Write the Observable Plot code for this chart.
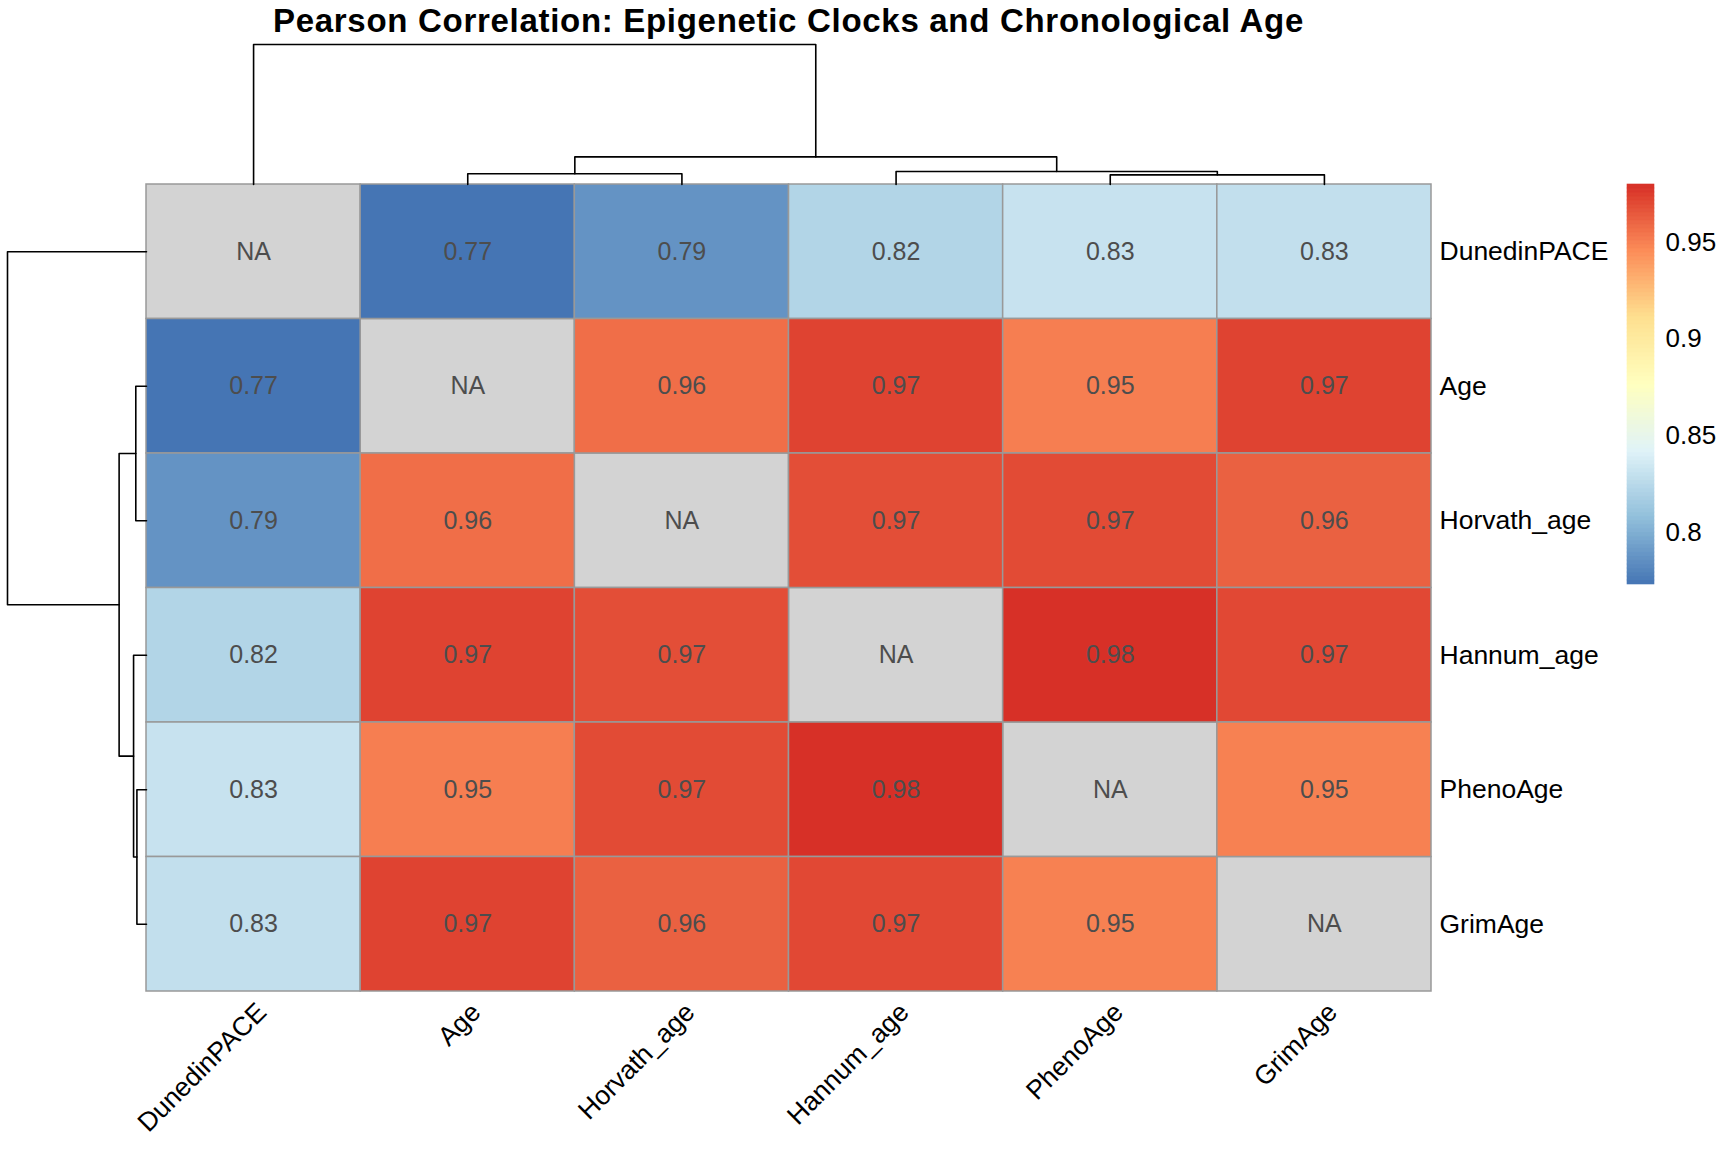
<!DOCTYPE html>
<html>
<head>
<meta charset="utf-8">
<script src="https://cdn.jsdelivr.net/npm/d3@7"></script>
<script src="https://cdn.jsdelivr.net/npm/@observablehq/plot@0.6"></script>
<style>
  html, body { margin: 0; padding: 0; background: #fff; }
  #figure { position: relative; width: 1728px; height: 1152px; overflow: hidden; font-family: "Liberation Sans", Arial, Helvetica, sans-serif; }
  #title {
    position: absolute; left: 146px; top: 1px; width: 1285px; height: 40px;
    line-height: 40px; text-align: center; font-weight: bold; font-size: 33px;
    letter-spacing: 0.7px; color: #000; white-space: nowrap;
  }
  #main { position: absolute; left: 0; top: 40px; width: 1728px; }
  #legend { position: absolute; left: 1627px; top: 174px; width: 200px; }
  #figure svg { max-width: none !important; }
</style>
</head>
<body>
<div id="figure">
  <div id="title">Pearson Correlation: Epigenetic Clocks and Chronological Age</div>
  <div id="main"></div>
  <div id="legend"></div>
</div>
<script>
// Clocks in clustered display order (same for rows and columns)
const clocks = ["DunedinPACE", "Age", "Horvath_age", "Hannum_age", "PhenoAge", "GrimAge"];

// Pearson correlation matrix, one row per clock (diagonal left as NA)
const rowDunedinPACE = [null, 0.773, 0.787, 0.822, 0.831, 0.829];
const rowAge         = [0.773, null, 0.957, 0.973, 0.951, 0.973];
const rowHorvath     = [0.787, 0.957, null, 0.969, 0.970, 0.962];
const rowHannum      = [0.822, 0.973, 0.969, null, 0.980, 0.971];
const rowPheno       = [0.831, 0.951, 0.970, 0.980, null, 0.950];
const rowGrim        = [0.829, 0.973, 0.962, 0.971, 0.950, null];
const corrRows = [rowDunedinPACE, rowAge, rowHorvath, rowHannum, rowPheno, rowGrim];

// Hierarchical clustering (hclust-style merges: negative = leaf number, positive = earlier merge)
const mergePairs   = [[-5, -6], [-2, -3], [-4, 1], [2, 3], [-1, 4]];
const mergeHeights = [0.069, 0.077, 0.093, 0.197, 1.0];

// Colour bar tick values
const legendTicks = [0.8, 0.85, 0.9, 0.95];

// Reversed RdYlBu (7 classes), ramped linearly in RGB across the data range
const rampColors = ["#4575B4", "#91BFDB", "#E0F3F8", "#FFFFBF", "#FEE090", "#FC8D59", "#D73027"];
const naColor = "#D3D3D3";

const n = clocks.length;
const allValues = corrRows.flat().filter(v => v != null);
const lo = d3.min(allValues), hi = d3.max(allValues);
const colorOptions = {
  type: "linear",
  domain: rampColors.map((_, i) => lo + (i * (hi - lo)) / (rampColors.length - 1)),
  range: rampColors,
  interpolate: "rgb"
};

const fmt = d3.format(".2f");
const cells = corrRows.flatMap((row, i) =>
  row.map((v, j) => ({ r: i, c: j, value: v }))
);

// Layout (pixels)
const W = 1728, H = 1112;
const frame = { left: 146, right: 1431, top: 144, bottom: 951 };
const cellW = (frame.right - frame.left) / n;
const cellH = (frame.bottom - frame.top) / n;
const colTreePx = 140;   // height of the column dendrogram
const rowTreePx = 139;   // width of the row dendrogram

// Dendrogram geometry from the merge list
const nodePos = [], nodeH = [];
function posOf(k) { return k < 0 ? -k - 1 + 0.5 : nodePos[k - 1]; }
function hOf(k) { return k < 0 ? 0 : nodeH[k - 1]; }
const treeSegs = [];
mergePairs.forEach(([a, b], m) => {
  const pa = posOf(a), pb = posOf(b), ha = hOf(a), hb = hOf(b), hm = mergeHeights[m];
  nodePos[m] = (pa + pb) / 2;
  nodeH[m] = hm;
  [[pa, ha], [pa, hm], [pb, hm], [pb, hb]].forEach(([p, h]) => treeSegs.push({ id: m, p, h }));
});
const colTreeUnits = colTreePx / cellH;
const rowTreeUnits = rowTreePx / cellW;

const fontFamily = '"Liberation Sans", Arial, Helvetica, sans-serif';
const labelSize = 26.5;

const main = Plot.plot({
  width: W,
  height: H,
  marginLeft: frame.left,
  marginRight: W - frame.right,
  marginTop: frame.top,
  marginBottom: H - frame.bottom,
  x: { domain: [0, n], axis: null },
  y: { domain: [0, n], reverse: true, axis: null },
  color: colorOptions,
  style: { fontFamily, background: "white", overflow: "visible" },
  marks: [
    // NA cells
    Plot.rect(cells.filter(d => d.value == null), {
      x1: d => d.c, x2: d => d.c + 1, y1: d => d.r, y2: d => d.r + 1,
      fill: naColor, stroke: "#999999", strokeWidth: 1.5
    }),
    // Correlation cells
    Plot.rect(cells.filter(d => d.value != null), {
      x1: d => d.c, x2: d => d.c + 1, y1: d => d.r, y2: d => d.r + 1,
      fill: "value", stroke: "#999999", strokeWidth: 1.5
    }),
    // Cell values
    Plot.text(cells, {
      x: d => d.c + 0.5, y: d => d.r + 0.5,
      text: d => (d.value == null ? "NA" : fmt(d.value)),
      fill: "#4D4D4D", fontSize: 25
    }),
    // Row labels
    Plot.text(clocks, {
      x: n, y: (d, i) => i + 0.5, text: d => d,
      dx: 8, textAnchor: "start", fontSize: labelSize, fill: "black"
    }),
    // Column labels
    Plot.text(clocks, {
      x: (d, i) => i + 0.5, y: n, text: d => d,
      dx: 1, dy: 9, rotate: -45, textAnchor: "end", lineAnchor: "top", fontSize: labelSize, fill: "black"
    }),
    // Column dendrogram
    Plot.line(treeSegs, {
      x: "p", y: d => -d.h * colTreeUnits, z: "id",
      stroke: "black", strokeWidth: 1.6, curve: "linear"
    }),
    // Row dendrogram
    Plot.line(treeSegs, {
      x: d => -d.h * rowTreeUnits, y: "p", z: "id",
      stroke: "black", strokeWidth: 1.6, curve: "linear"
    })
  ]
});
document.getElementById("main").appendChild(main);

// Colour bar
const nBins = 100;
const bins = d3.range(nBins).map(i => ({
  y1: lo + (i * (hi - lo)) / nBins,
  y2: lo + ((i + 1) * (hi - lo)) / nBins,
  v: lo + ((i + 0.5) * (hi - lo)) / nBins
}));
const legend = Plot.plot({
  width: 110,
  height: 420,
  marginTop: 10,
  marginBottom: 10,
  marginLeft: 0,
  marginRight: 83,
  x: { domain: [0, 1], axis: null },
  y: { domain: [lo, hi], axis: null, label: null },
  color: colorOptions,
  style: { fontFamily, background: "transparent", overflow: "visible" },
  marks: [
    Plot.rect(bins, { x1: 0, x2: 1, y1: "y1", y2: "y2", fill: "v", stroke: "v", strokeWidth: 0.6 }),
    Plot.axisY(legendTicks, {
      anchor: "right", tickSize: 0, tickPadding: 11, fontSize: 26,
      tickFormat: d => String(d), label: null, fill: "black"
    })
  ]
});
document.getElementById("legend").appendChild(legend);
</script>
</body>
</html>
